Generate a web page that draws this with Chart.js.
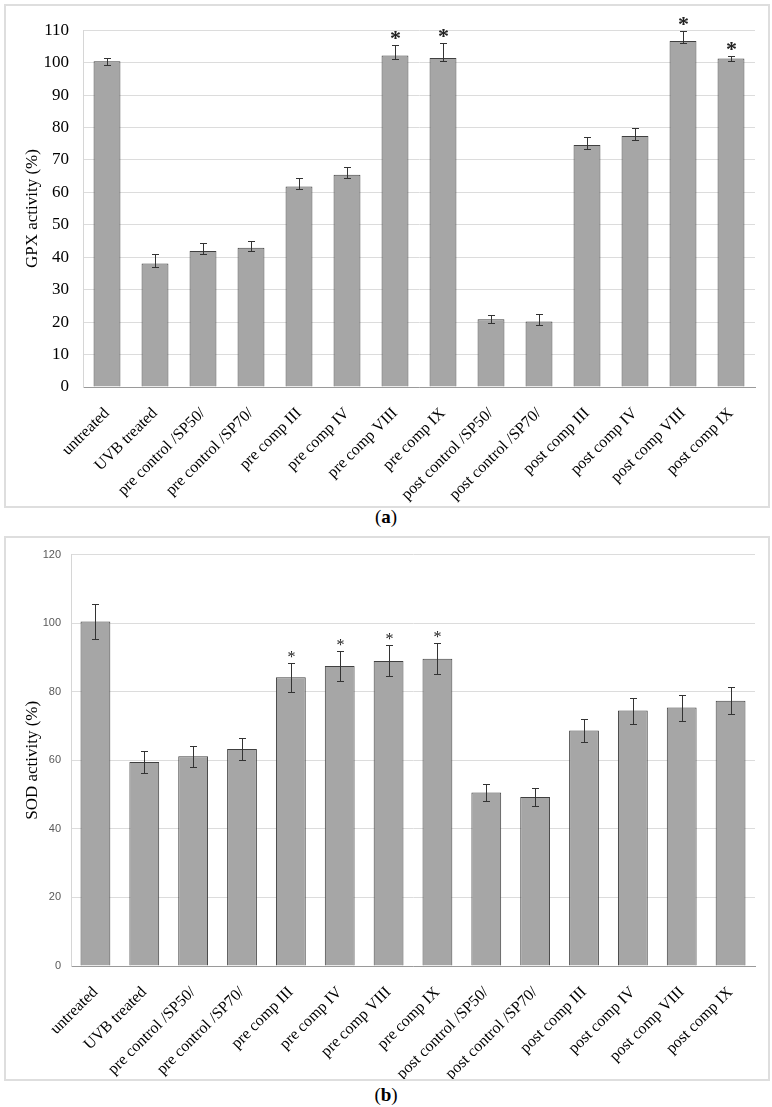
<!DOCTYPE html>
<html>
<head>
<meta charset="utf-8">
<script src="https://cdn.jsdelivr.net/npm/chart.js@4.4.1/dist/chart.umd.min.js"></script>
<style>
  body { margin: 0; background: #fff; }
  .box { position: absolute; border: 2px solid #dedede; background: #fff; }
  .cap { position: absolute; width: 772px; text-align: center; font-family: 'Liberation Serif', serif; font-size: 19px; color: #000; }
  canvas { position: absolute; }
</style>
</head>
<body>
<div class="box" style="left:4px;top:4px;width:762px;height:500px;"></div>
<canvas id="gpx" width="762" height="500" style="left:6px;top:6px;"></canvas>
<div class="cap" style="top:506px;">(<b>a</b>)</div>

<div class="box" style="left:4px;top:536px;width:762px;height:541px;"></div>
<canvas id="sod" width="762" height="541" style="left:6px;top:538px;"></canvas>
<div class="cap" style="top:1084px;">(<b>b</b>)</div>

<script>
// categories (same for both panels)
const groups = ['untreated', 'UVB treated', 'pre control /SP50/', 'pre control /SP70/',
  'pre comp III', 'pre comp IV', 'pre comp VIII', 'pre comp IX',
  'post control /SP50/', 'post control /SP70/', 'post comp III', 'post comp IV',
  'post comp VIII', 'post comp IX'];

// (a) GPX activity (%)
const gpxValues  = [100.4, 38.1, 41.9, 42.9, 61.8, 65.4, 102.2, 101.4, 20.9, 20.2, 74.6, 77.4, 106.7, 101.3];
const gpxErrUp   = [0.9, 2.8, 2.4, 2.0, 2.6, 2.3, 3.1, 4.7, 1.4, 2.4, 2.4, 2.3, 2.9, 0.8];
const gpxErrDown = [1.0, 1.0, 1.0, 1.0, 0.9, 1.0, 1.1, 1.0, 1.2, 1.1, 1.2, 1.1, 0.8, 0.9];
const gpxStars   = ['', '', '', '', '', '', '*', '*', '', '', '', '', '*', '*'];
const gpxTicks   = { min: 0, max: 110, step: 10 };

// (b) SOD activity (%)
const sodValues  = [100.5, 59.5, 61.2, 63.3, 84.2, 87.5, 89.0, 89.6, 50.6, 49.3, 68.7, 74.5, 75.4, 77.4];
const sodErrUp   = [5.0, 3.1, 3.1, 3.3, 4.2, 4.4, 4.6, 4.5, 2.5, 2.5, 3.4, 3.7, 3.7, 3.9];
const sodErrDown = [5.1, 3.1, 3.1, 3.2, 4.2, 4.3, 4.4, 4.5, 2.5, 2.5, 3.4, 3.8, 3.8, 3.8];
const sodStars   = ['', '', '', '', '*', '*', '*', '*', '', '', '', '', '', ''];
const sodTicks   = { min: 0, max: 120, step: 20 };

const serif = 'Liberation Serif, Times New Roman, serif';

// error bars + significance marks, positioned through the y scale
const errBars = {
  id: 'errBars',
  afterDatasetsDraw(chart, args, opts) {
    const ctx = chart.ctx;
    const y = chart.scales.y;
    const bars = chart.getDatasetMeta(0).data;
    ctx.save();
    ctx.strokeStyle = '#333';
    ctx.lineWidth = 1;
    bars.forEach((bar, i) => {
      const v = chart.data.datasets[0].data[i];
      const top = Math.round(y.getPixelForValue(v + opts.up[i])) + 0.5;
      const bot = Math.round(y.getPixelForValue(v - opts.down[i])) + 0.5;
      const x = Math.round(bar.x) + 0.5;
      ctx.beginPath();
      ctx.moveTo(x, top); ctx.lineTo(x, bot);
      ctx.moveTo(x - opts.cap, top); ctx.lineTo(x + opts.cap, top);
      ctx.moveTo(x - opts.cap, bot); ctx.lineTo(x + opts.cap, bot);
      ctx.stroke();
      if (opts.stars[i]) {
        ctx.font = opts.starFont;
        ctx.fillStyle = '#222';
        ctx.textAlign = 'center';
        ctx.textBaseline = 'alphabetic';
        const m = ctx.measureText(opts.stars[i]);
        const mid = (m.actualBoundingBoxAscent - m.actualBoundingBoxDescent) / 2;
        ctx.fillText(opts.stars[i], x, top - opts.starGap + mid);
      }
    });
    ctx.restore();
  }
};

function makeChart(id, values, up, down, stars, ticks, o) {
  return new Chart(document.getElementById(id), {
    type: 'bar',
    data: {
      labels: groups,
      datasets: [{
        data: values,
        backgroundColor: '#a6a6a6',
        borderColor: '#404040',
        borderWidth: 1,
        barPercentage: o.barPct,
        categoryPercentage: 1
      }]
    },
    options: {
      responsive: false,
      animation: false,
      devicePixelRatio: 1,
      layout: { padding: { top: o.padTop, right: 13, left: 0, bottom: 0 } },
      plugins: {
        legend: { display: false },
        tooltip: { enabled: false },
        errBars: { up: up, down: down, stars: stars, cap: 3.5, starFont: o.starFont, starGap: o.starGap }
      },
      scales: {
        x: {
          grid: { display: false, drawTicks: false },
          border: { color: '#9a9a9a', width: 1 },
          ticks: {
            autoSkip: false, minRotation: 45, maxRotation: 45, padding: 17,
            color: '#000', font: { family: serif, size: 16 }
          },
          afterFit(scale) { scale.height = o.xHeight; }
        },
        y: {
          min: ticks.min, max: ticks.max,
          grid: { color: '#dcdcdc', drawTicks: false, tickLength: 0 },
          border: { color: '#d6d6d6', width: 1 },
          ticks: {
            stepSize: ticks.step, padding: o.tickPad,
            color: o.tickColor, font: o.tickFont
          },
          title: {
            display: true, text: o.title, color: '#000',
            font: { family: serif, size: 17 }, padding: { top: 16, bottom: 0 }
          },
          afterFit(scale) { scale.width = o.yWidth; }
        }
      }
    },
    plugins: [errBars]
  });
}

makeChart('gpx', gpxValues, gpxErrUp, gpxErrDown, gpxStars, gpxTicks, {
  barPct: 0.56, padTop: 14, xHeight: 119, yWidth: 77, tickPad: 14,
  tickColor: '#000', tickFont: { family: serif, size: 17 },
  title: 'GPX activity (%)', starFont: 'bold 22px ' + serif, starGap: 10
});

makeChart('sod', sodValues, sodErrUp, sodErrDown, sodStars, sodTicks, {
  barPct: 0.61, padTop: 13, xHeight: 113, yWidth: 65, tickPad: 10,
  tickColor: '#595959', tickFont: { family: 'Liberation Sans, Arial, sans-serif', size: 11 },
  title: 'SOD activity (%)', starFont: '16px ' + serif, starGap: 9
});
</script>
</body>
</html>
